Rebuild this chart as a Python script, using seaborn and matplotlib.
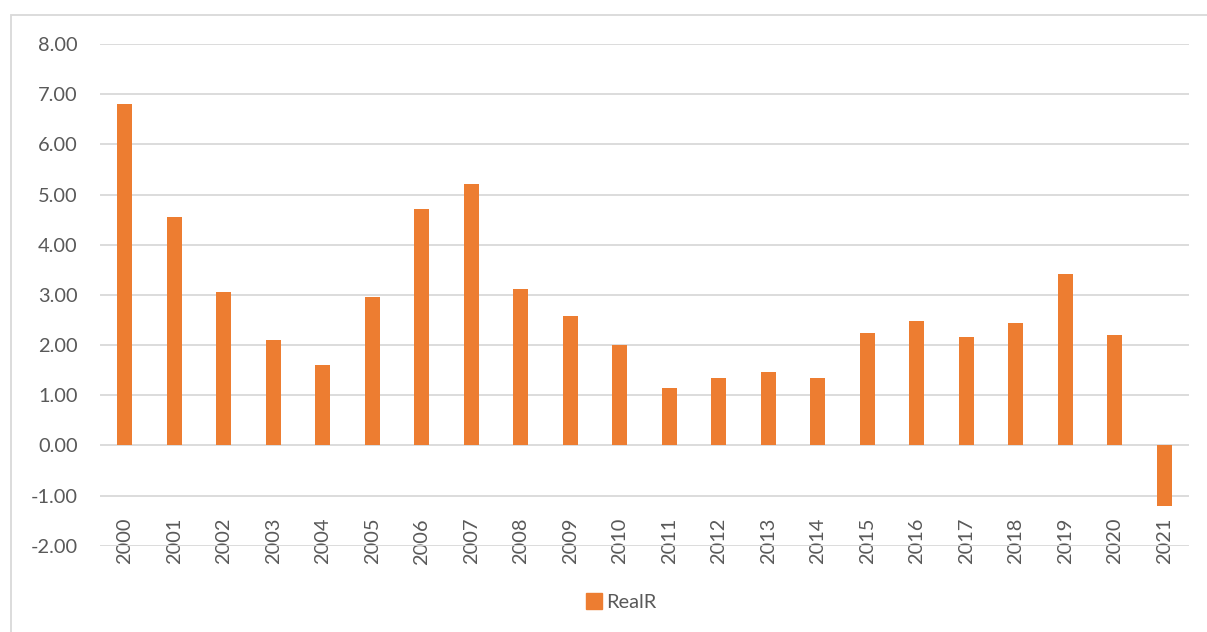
import matplotlib
matplotlib.use("Agg")
import matplotlib.pyplot as plt
from matplotlib.patches import Rectangle
from matplotlib.lines import Line2D
import seaborn as sns
import pandas as pd

# Annual real rate, 2000-2021
years = [str(y) for y in range(2000, 2022)]
real_r = [6.81, 4.56, 3.05, 2.10, 1.60, 2.95, 4.72, 5.20, 3.11, 2.58, 2.01,
          1.14, 1.35, 1.46, 1.35, 2.23, 2.47, 2.15, 2.44, 3.42, 2.20, -1.21]
y_ticks = [-2, -1, 0, 1, 2, 3, 4, 5, 6, 7, 8]
series_name = "RealR"

BAR = "#ED7D31"
GRID = "#D9D9D9"
TEXT = "#595959"

sns.set_theme(style="white")
plt.rcParams["font.family"] = ["Lato", "DejaVu Sans"]

df = pd.DataFrame({"year": years, "value": real_r})

W, H = 1207, 632
fig = plt.figure(figsize=(W / 100, H / 100), dpi=100)
ax = fig.add_axes([100 / W, 1 - 545.7 / H, (1189 - 100) / W, (545.7 - 44) / H])

sns.barplot(data=df, x="year", y="value", color=BAR, saturation=1,
            width=0.31, ax=ax, zorder=3, edgecolor="none")

ax.set_ylim(-2, 8)
ax.set_xlim(-0.5, len(years) - 0.5)
ax.set_yticks(y_ticks)
ax.set_yticklabels([f"{v:.2f}" for v in y_ticks])
for v in y_ticks:
    ax.axhline(v, color=GRID, lw=1.3, zorder=1)

ax.set_xlabel("")
ax.set_ylabel("")
for s in ax.spines.values():
    s.set_visible(False)

ax.tick_params(axis="y", length=0, pad=16, labelsize=14.4, labelcolor=TEXT)
ax.tick_params(axis="x", length=0, pad=-20, labelsize=14.4, labelcolor=TEXT,
               labelrotation=90)

# Legend below the plot
handle = Line2D([], [], marker="s", linestyle="none", markersize=11,
                markerfacecolor=BAR, markeredgecolor=BAR)
fig.legend([handle], [series_name], loc="center", bbox_to_anchor=(620 / W, 1 - 602 / H),
           frameon=False, fontsize=14.4, labelcolor=TEXT, handletextpad=0.1,
           handlelength=1.0)

# Chart-area border
fig.patches.append(Rectangle((11 / W, -0.1), 1.2, 1 - 15 / H + 0.1,
                             transform=fig.transFigure, fill=False,
                             edgecolor=GRID, lw=1.3))

fig.savefig("out.png", dpi=100)
